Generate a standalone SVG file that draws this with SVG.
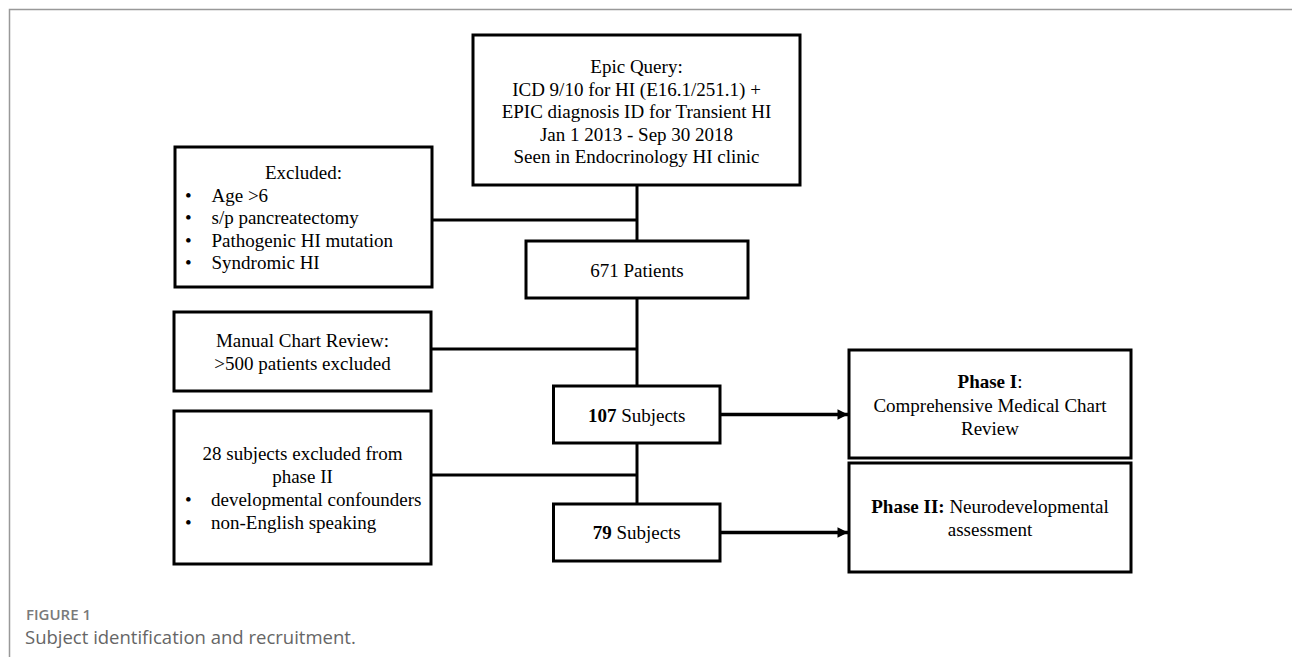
<svg xmlns="http://www.w3.org/2000/svg" width="1292" height="657" viewBox="0 0 1292 657">
<style>
.box{fill:#fff;stroke:#000;stroke-width:3}
.t{font-family:"Liberation Serif","Times New Roman",serif;font-size:19px;fill:#000}
.c{text-anchor:middle}
.b{font-weight:bold}
.ln{stroke:#000;stroke-width:3;fill:none}
.ar{stroke:#000;stroke-width:3.5;fill:none}
.cap1{font-family:"Open Sans",sans-serif;font-size:15px;font-weight:600;fill:#7a7a7a}
.cap2{font-family:"Open Sans",sans-serif;font-size:18.5px;font-weight:normal;fill:#666}
</style>
<defs>
<marker id="ah" viewBox="0 0 10 10" refX="10" refY="5" markerWidth="3.2" markerHeight="3" markerUnits="strokeWidth" orient="auto">
<path d="M0,0 L10,5 L0,10 z" fill="#000"/>
</marker>
</defs>
<rect width="1292" height="657" fill="#fff"/>
<path d="M9.5 657 V9.5 H1292" stroke="#999" stroke-width="1.5" fill="none"/>
<g id="connectors">
<path class="ln" d="M637 185 V241"/>
<path class="ln" d="M637 298 V386"/>
<path class="ln" d="M637 443 V504"/>
<path class="ln" d="M432 220 H637"/>
<path class="ln" d="M431 349 H637"/>
<path class="ln" d="M431 475 H637"/>
<path class="ar" d="M720 414.5 H848" marker-end="url(#ah)"/>
<path class="ar" d="M720 532.5 H848" marker-end="url(#ah)"/>
</g>
<g id="epic">
<rect class="box" x="473" y="35" width="327" height="150"/>
<text class="t c" x="636.5" y="73">Epic Query:</text>
<text class="t c" x="636.5" y="95.5">ICD 9/10 for HI (E16.1/251.1) +</text>
<text class="t c" x="636.5" y="118">EPIC diagnosis ID for Transient HI</text>
<text class="t c" x="636.5" y="140.5">Jan 1 2013 - Sep 30 2018</text>
<text class="t c" x="636.5" y="163">Seen in Endocrinology HI clinic</text>
</g>
<g id="excluded">
<rect class="box" x="175" y="147" width="257" height="140"/>
<text class="t c" x="303.5" y="179">Excluded:</text>
<text class="t" x="185" y="201.5">•</text><text class="t" x="211.5" y="201.5">Age &gt;6</text>
<text class="t" x="185" y="224">•</text><text class="t" x="211.5" y="224">s/p pancreatectomy</text>
<text class="t" x="185" y="246.5">•</text><text class="t" x="211.5" y="246.5">Pathogenic HI mutation</text>
<text class="t" x="185" y="269">•</text><text class="t" x="211.5" y="269">Syndromic HI</text>
</g>
<g id="patients671">
<rect class="box" x="526" y="241" width="222" height="57"/>
<text class="t c" x="637" y="276.5">671 Patients</text>
</g>
<g id="manual">
<rect class="box" x="174" y="312" width="257" height="79"/>
<text class="t c" x="302.5" y="347">Manual Chart Review:</text>
<text class="t c" x="302.5" y="370">&gt;500 patients excluded</text>
</g>
<g id="subjects107">
<rect class="box" x="553.5" y="386" width="166.5" height="57"/>
<text class="t c" x="636.7" y="421.5"><tspan class="b">107</tspan> Subjects</text>
</g>
<g id="excluded28">
<rect class="box" x="174" y="411" width="257" height="153"/>
<text class="t c" x="302.5" y="459.5">28 subjects excluded from</text>
<text class="t c" x="302.5" y="482.5">phase II</text>
<text class="t" x="185" y="505.5">•</text><text class="t" x="211" y="505.5">developmental confounders</text>
<text class="t" x="185" y="528.5">•</text><text class="t" x="211" y="528.5">non-English speaking</text>
</g>
<g id="subjects79">
<rect class="box" x="553.5" y="504" width="166.5" height="57"/>
<text class="t c" x="636.7" y="539"><tspan class="b">79</tspan> Subjects</text>
</g>
<g id="phase1">
<rect class="box" x="849" y="350" width="282" height="108"/>
<text class="t c" x="990" y="388"><tspan class="b">Phase I</tspan>:</text>
<text class="t c" x="990" y="411.5">Comprehensive Medical Chart</text>
<text class="t c" x="990" y="434.5">Review</text>
</g>
<g id="phase2">
<rect class="box" x="849" y="463" width="282" height="109"/>
<text class="t c" x="990" y="512.5"><tspan class="b">Phase II:</tspan> Neurodevelopmental</text>
<text class="t c" x="990" y="536">assessment</text>
</g>
<g id="caption">
<text class="cap1" x="26" y="620">FIGURE 1</text>
<text class="cap2" x="25" y="644">Subject identification and recruitment.</text>
</g>
</svg>
